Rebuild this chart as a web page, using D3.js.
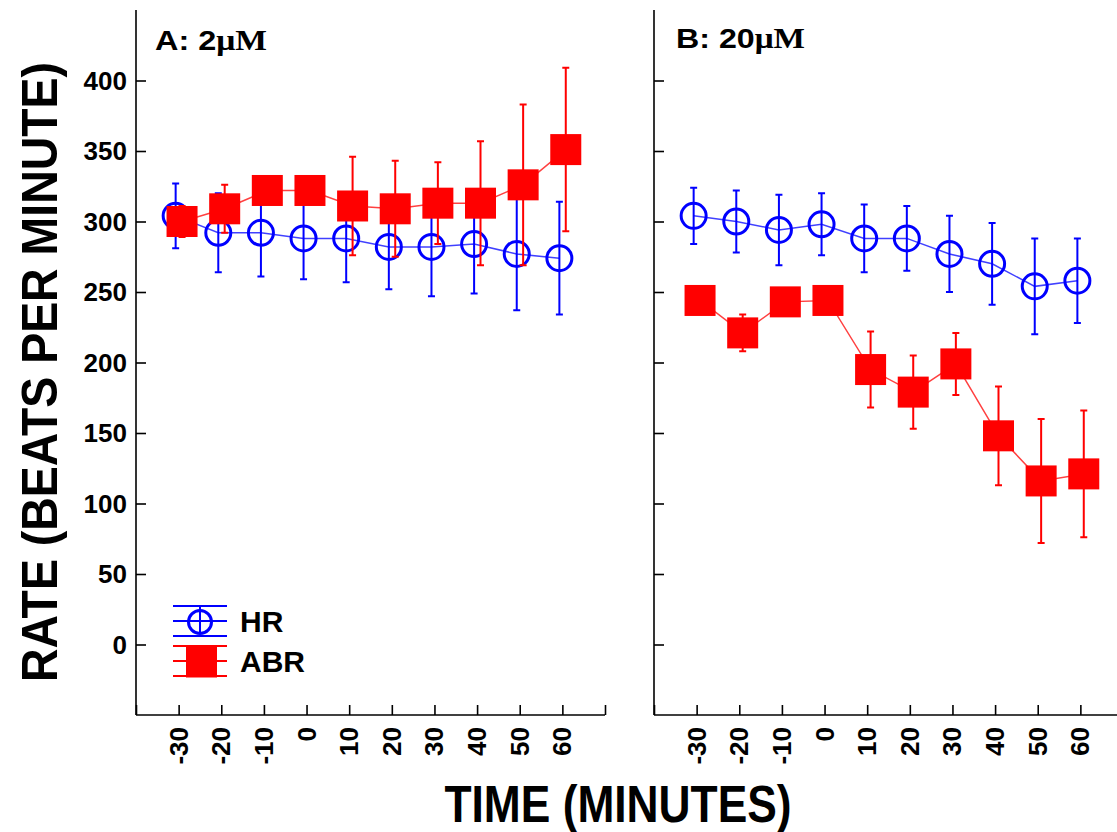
<!DOCTYPE html>
<html>
<head>
<meta charset="utf-8">
<script src="https://cdn.jsdelivr.net/npm/d3@7"></script>
<style>
  html, body { margin: 0; padding: 0; background: #fff; }
  svg { display: block; }
  text { font-family: "Liberation Sans", Arial, sans-serif; font-weight: bold; fill: #000; }
</style>
</head>
<body>
<svg id="chart" width="1117" height="832"></svg>
<script>
// Sampling times (minutes relative to drug application)
const times = [-30, -20, -10, 0, 10, 20, 30, 40, 50, 60];
const xTickLabels = ["-30", "-20", "-10", "0", "10", "20", "30", "40", "50", "60"];
const yTickValues = [0, 50, 100, 150, 200, 250, 300, 350, 400];

// Panel A: 2 µM
const hrA = [304, 292, 292, 288, 288, 282, 282, 284, 277, 274];
const hrAErr = [23, 28, 31, 29, 31, 30, 35, 35, 40, 40];
const abrA = [300, 309, 322, 322, 311, 309, 313, 313, 326, 351];
const abrAErr = [11, 17, 8, 8, 35, 34, 29, 44, 57, 58];

// Panel B: 20 µM
const hrB = [304, 300, 294, 298, 288, 288, 277, 270, 254, 258];
const hrBErr = [20, 22, 25, 22, 24, 23, 27, 29, 34, 30];
const abrB = [244, 221, 243, 244, 195, 179, 199, 148, 116, 121];
const abrBErr = [6, 13, 6, 6, 27, 26, 22, 35, 44, 45];

const panels = [
  { tag: "A: 2", conc: "\u03BCM", hr: hrA, hrErr: hrAErr, abr: abrA, abrErr: abrAErr,
    x0: 136, labelX: 155, labelY: 50, labelW: 112, yLabels: true, legend: true },
  { tag: "B: 20", conc: "\u03BCM", hr: hrB, hrErr: hrBErr, abr: abrB, abrErr: abrBErr,
    x0: 654, labelX: 676, labelY: 48, labelW: 129, yLabels: false, legend: false }
];

const BLUE = "#0000ff", RED = "#ff0000";
const plotTop = 10, plotBottom = 715, panelW = 469;
const hrShift = -0.7, abrShift = 0.8;   // small horizontal dodge between the two series

const svg = d3.select("#chart");
const y = d3.scaleLinear().domain([-50, 450]).range([plotBottom, plotTop]);

panels.forEach(p => {
  const x = d3.scaleLinear().domain([-40, 70]).range([p.x0, p.x0 + panelW]);
  const g = svg.append("g");

  // axes: ticks point inward
  const yAxis = d3.axisRight(y).tickValues(yTickValues).tickSize(10).tickFormat("");
  const ya = g.append("g").attr("transform", `translate(${p.x0},0)`).call(yAxis);
  ya.select(".domain").attr("d", `M0,${plotTop}V${plotBottom}`);
  const xAxis = d3.axisTop(x).tickValues(d3.range(-40, 71, 10)).tickSize(10).tickFormat("");
  const xa = g.append("g").attr("transform", `translate(0,${plotBottom})`).call(xAxis);
  xa.select(".domain").attr("d", `M${p.x0},0H${p.x0 + panelW}`);
  g.selectAll(".domain, .tick line").attr("stroke", "#000").attr("stroke-width", 1.6);

  // y tick labels
  if (p.yLabels) {
    g.selectAll(".ylab").data(yTickValues).join("text")
      .attr("x", 127).attr("y", d => y(d)).attr("dy", "0.36em")
      .attr("text-anchor", "end").attr("font-size", 26).text(d => d);
  }
  // rotated x tick labels
  g.selectAll(".xlab").data(times).join("text")
    .attr("transform", d => `translate(${x(d) + 9},727) rotate(-90)`)
    .attr("text-anchor", "end").attr("font-size", 26)
    .text((d, i) => xTickLabels[i]);

  // panel label
  const lab = g.append("text").attr("x", p.labelX).attr("y", p.labelY).attr("font-size", 28)
    .attr("textLength", p.labelW).attr("lengthAdjust", "spacingAndGlyphs");
  lab.append("tspan").text(p.tag);
  lab.append("tspan").attr("font-family", "'Liberation Serif', 'Times New Roman', serif")
    .attr("font-size", 29).text(p.conc);

  const line = d3.line();

  // HR series
  const hrPts = times.map((t, i) => [x(t + hrShift), y(p.hr[i])]);
  g.append("path").attr("d", line(hrPts)).attr("fill", "none")
    .attr("stroke", BLUE).attr("stroke-width", 1.5).attr("stroke-opacity", 0.75);
  times.forEach((t, i) => {
    const cx = x(t + hrShift), hi = y(p.hr[i] + p.hrErr[i]), lo = y(p.hr[i] - p.hrErr[i]);
    g.append("path").attr("d", `M${cx},${hi}V${lo}M${cx - 3.5},${hi}H${cx + 3.5}M${cx - 3.5},${lo}H${cx + 3.5}`)
      .attr("stroke", BLUE).attr("stroke-width", 2).attr("fill", "none");
  });
  g.selectAll(".hr").data(hrPts).join("circle")
    .attr("cx", d => d[0]).attr("cy", d => d[1]).attr("r", 12.5)
    .attr("fill", "none").attr("stroke", BLUE).attr("stroke-width", 3);

  // ABR series
  const abrPts = times.map((t, i) => [x(t + abrShift), y(p.abr[i])]);
  g.append("path").attr("d", line(abrPts)).attr("fill", "none")
    .attr("stroke", RED).attr("stroke-width", 1.5).attr("stroke-opacity", 0.75);
  times.forEach((t, i) => {
    const cx = x(t + abrShift), hi = y(p.abr[i] + p.abrErr[i]), lo = y(p.abr[i] - p.abrErr[i]);
    g.append("path").attr("d", `M${cx},${hi}V${lo}M${cx - 3.5},${hi}H${cx + 3.5}M${cx - 3.5},${lo}H${cx + 3.5}`)
      .attr("stroke", RED).attr("stroke-width", 2).attr("fill", "none");
  });
  g.selectAll(".abr").data(abrPts).join("rect")
    .attr("x", d => d[0] - 15.5).attr("y", d => d[1] - 15.5)
    .attr("width", 31).attr("height", 31).attr("fill", RED);

  // legend
  if (p.legend) {
    const lg = g.append("g");
    const lx0 = 173, lx1 = 227;
    const items = [
      { name: "HR", color: BLUE, cy: 621 },
      { name: "ABR", color: RED, cy: 661 }
    ];
    items.forEach(it => {
      [-15, 0, 15].forEach(o => lg.append("line")
        .attr("x1", lx0).attr("x2", lx1).attr("y1", it.cy + o).attr("y2", it.cy + o)
        .attr("stroke", it.color).attr("stroke-width", 2));
      if (it.name === "HR") {
        lg.append("line").attr("x1", 200).attr("x2", 200).attr("y1", it.cy - 15).attr("y2", it.cy + 12)
          .attr("stroke", it.color).attr("stroke-width", 2);
        lg.append("circle").attr("cx", 200).attr("cy", it.cy + 1).attr("r", 11.5)
          .attr("fill", "none").attr("stroke", it.color).attr("stroke-width", 3);
      } else {
        lg.append("rect").attr("x", 186).attr("y", it.cy - 15.5).attr("width", 31).attr("height", 32)
          .attr("fill", it.color);
      }
      lg.append("text").attr("x", 240).attr("y", it.cy).attr("dy", "0.36em")
        .attr("font-size", 30).text(it.name);
    });
  }
});

// axis titles
svg.append("text")
  .attr("transform", "translate(57,372) rotate(-90)")
  .attr("text-anchor", "middle").attr("font-size", 50)
  .attr("textLength", 620).attr("lengthAdjust", "spacingAndGlyphs")
  .text("RATE (BEATS PER MINUTE)");
svg.append("text")
  .attr("x", 618).attr("y", 822)
  .attr("text-anchor", "middle").attr("font-size", 51)
  .attr("textLength", 347).attr("lengthAdjust", "spacingAndGlyphs")
  .text("TIME (MINUTES)");
</script>
</body>
</html>
